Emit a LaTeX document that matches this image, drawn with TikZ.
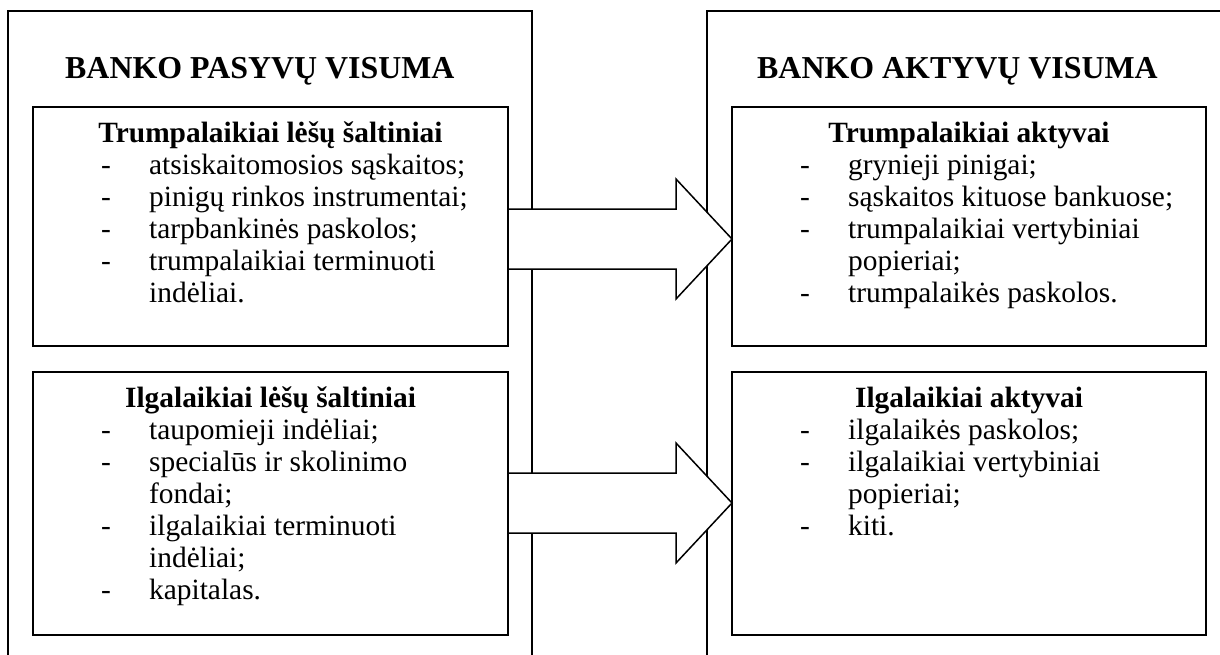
\documentclass[tikz,border=0pt]{standalone}
\usepackage{fontspec}
\setmainfont{Liberation Serif}
\usetikzlibrary{calc}

\tikzset{
  frame/.style={line width=1.3pt, line join=miter},
  inbox/.style={draw, line width=2.2pt, minimum width=475pt, outer sep=0pt, inner sep=0pt},
  bigtitle/.style={anchor=base west, inner sep=0pt, font=\fontsize{31.9}{36}\selectfont\bfseries},
  boxhead/.style={anchor=base, inner sep=0pt, font=\fontsize{29.4}{32}\selectfont\bfseries},
  itemlist/.style={anchor=base west, inner sep=0pt, font=\fontsize{29.4}{32}\selectfont},
  blockarrow/.style={draw, fill=white, line width=1.5pt, line join=miter},
}

% dash column + text column, first row baseline on the node's base
\newcommand{\dashlist}[1]{\begin{tabular}[t]{@{}p{48pt}@{}l@{}}#1\end{tabular}}

\begin{document}
\begin{tikzpicture}[x=1pt, y=-1pt]
\useasboundingbox (0,0) rectangle (1220,654);

% outer frames (open at the bottom)
\draw[frame] (8,656) -- (8,11) -- (532,11) -- (532,656);
\draw[frame] (707,656) -- (707,11) -- (1224,11);

\node[bigtitle] (tp) at (65,78) {BANKO PASYVŲ VISUMA};
\node[bigtitle] (ta0) at (757,78) {BANKO AKTYVŲ VISUMA};

% inner boxes
\node[inbox, minimum height=239pt] (ts) at (270.5,226.5) {};
\node[inbox, minimum height=263pt] (ls) at (270.5,503.5) {};
\node[inbox, minimum width=474pt, minimum height=239pt] (ta) at (969,226.5) {};
\node[inbox, minimum width=474pt, minimum height=263pt] (la) at (969,503.5) {};

% passive side
\node[boxhead] (tsh) at ($(ts.north)+(0,35)$) {Trumpalaikiai lėšų šaltiniai};
\node[itemlist] (tsl) at ($(ts.north west)+(68,67)$) {\dashlist{%
  - & atsiskaitomosios sąskaitos;\\
  - & pinigų rinkos instrumentai;\\
  - & tarpbankinės paskolos;\\
  - & trumpalaikiai terminuoti\\
    & indėliai.}};

\node[boxhead] (lsh) at ($(ls.north)+(0,35)$) {Ilgalaikiai lėšų šaltiniai};
\node[itemlist] (lsl) at ($(ls.north west)+(68,67)$) {\dashlist{%
  - & taupomieji indėliai;\\
  - & specialūs ir skolinimo\\
    & fondai;\\
  - & ilgalaikiai terminuoti\\
    & indėliai;\\
  - & kapitalas.}};

% active side
\node[boxhead] (tah) at ($(ta.north)+(0,35)$) {Trumpalaikiai aktyvai};
\node[itemlist] (tal) at ($(ta.north west)+(68,67)$) {\dashlist{%
  - & grynieji pinigai;\\
  - & sąskaitos kituose bankuose;\\
  - & trumpalaikiai vertybiniai\\
    & popieriai;\\
  - & trumpalaikės paskolos.}};

\node[boxhead] (lah) at ($(la.north)+(0,35)$) {Ilgalaikiai aktyvai};
\node[itemlist] (lal) at ($(la.north west)+(68,67)$) {\dashlist{%
  - & ilgalaikės paskolos;\\
  - & ilgalaikiai vertybiniai\\
    & popieriai;\\
  - & kiti.}};

% block arrows from sources to assets
\coordinate (y1) at (0,239);
\coordinate (y2) at (0,503);
\coordinate (s1) at (ts.east |- y1);
\coordinate (e1) at (ta.west |- y1);
\coordinate (s2) at (ls.east |- y2);
\coordinate (e2) at (la.west |- y2);

\draw[blockarrow] ($(s1)+(0,-30)$) -- ($(e1)+(-56,-30)$) -- ($(e1)+(-56,-60)$)
  -- (e1) -- ($(e1)+(-56,60)$) -- ($(e1)+(-56,30)$) -- ($(s1)+(0,30)$) -- cycle;
\draw[blockarrow] ($(s2)+(0,-30)$) -- ($(e2)+(-56,-30)$) -- ($(e2)+(-56,-60)$)
  -- (e2) -- ($(e2)+(-56,60)$) -- ($(e2)+(-56,30)$) -- ($(s2)+(0,30)$) -- cycle;
\end{tikzpicture}
\end{document}
